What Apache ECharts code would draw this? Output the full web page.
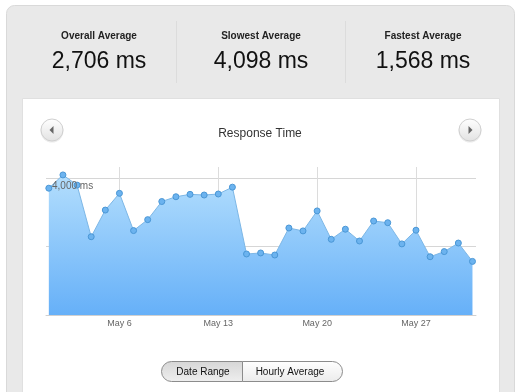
<!DOCTYPE html>
<html><head><meta charset="utf-8">
<script src="https://cdn.jsdelivr.net/npm/echarts@6/dist/echarts.min.js"></script>
<style>html,body{margin:0;padding:0;background:#fff}#c{width:520px;height:392px}</style>
</head><body><div id="c"></div>
<script>
// ---- data ----
const month = 'May';
const days = [1,2,3,4,5,6,7,8,9,10,11,12,13,14,15,16,17,18,19,20,21,22,23,24,25,26,27,28,29,30,31];
const responseMs = [3710,4098,3800,2290,3070,3560,2470,2790,3320,3460,3530,3510,3540,3740,1785,1815,1755,2545,2460,3045,2215,2510,2165,2750,2700,2080,2480,1705,1855,2105,1568];
const xTickDays = [6,13,20,27];
const yGridValues = [0,2000,4000];
const yLabelValues = [4000];
const statLabels = ['Overall Average','Slowest Average','Fastest Average'];
const statValues = ['2,706 ms','4,098 ms','1,568 ms'];
const chartTitle = 'Response Time';
const buttonLabels = ['Date Range','Hourly Average'];

const FONT = 'Liberation Sans, Arial, sans-serif';
const chart = echarts.init(document.getElementById('c'), null, {renderer:'canvas'});

const statX = [99, 261, 423];
const graphics = [
  {type:'rect', z:-20, shape:{x:6.5,y:5.5,width:508,height:420,r:8}, style:{fill:'#e9e9e9',stroke:'#d9d9d9',lineWidth:1}},
  {type:'rect', z:-19, shape:{x:22.5,y:98.5,width:477,height:320}, style:{fill:'#ffffff',stroke:'#e0e0e0',lineWidth:1}},
  {type:'line', z:-18, shape:{x1:176.5,y1:21,x2:176.5,y2:83}, style:{stroke:'#dcdcdc',lineWidth:1}},
  {type:'line', z:-18, shape:{x1:345.5,y1:21,x2:345.5,y2:83}, style:{stroke:'#dcdcdc',lineWidth:1}}
];
statLabels.forEach((t,i)=>{
  graphics.push({type:'text', z:5, x:statX[i], y:36, style:{text:t, fill:'#222', fontFamily:FONT, fontSize:10, fontWeight:'bold', align:'center', verticalAlign:'middle'}});
  graphics.push({type:'text', z:5, x:statX[i], y:62, style:{text:statValues[i], fill:'#111', fontFamily:FONT, fontSize:23, align:'center', verticalAlign:'middle'}});
});
// nav buttons
[[52,130,'l'],[470,130,'r']].forEach(([cx,cy,d])=>{
  graphics.push({type:'circle', z:5, shape:{cx:cx,cy:cy+1,r:11.5}, style:{fill:'rgba(0,0,0,0.08)'}});
  graphics.push({type:'circle', z:6, shape:{cx:cx,cy:cy,r:11}, style:{
    fill:new echarts.graphic.LinearGradient(0,0,0,1,[{offset:0,color:'#ffffff'},{offset:1,color:'#e2e2e2'}]),
    stroke:'#d0d0d0',lineWidth:1}});
  const pts = d==='l' ? [[cx+1.5,cy-4],[cx+1.5,cy+4],[cx-2.5,cy]] : [[cx-1.5,cy-4],[cx-1.5,cy+4],[cx+2.5,cy]];
  graphics.push({type:'polygon', z:7, shape:{points:pts}, style:{fill:'#666'}});
});
// segmented buttons
graphics.push({type:'rect', z:5, shape:{x:161.5,y:361.5,width:81,height:20,r:[10,0,0,10]}, style:{
  fill:new echarts.graphic.LinearGradient(0,0,0,1,[{offset:0,color:'#d6d6d6'},{offset:1,color:'#efefef'}]), stroke:'#8c8c8c', lineWidth:1}});
graphics.push({type:'rect', z:5, shape:{x:242.5,y:361.5,width:100,height:20,r:[0,10,10,0]}, style:{
  fill:new echarts.graphic.LinearGradient(0,0,0,1,[{offset:0,color:'#ffffff'},{offset:1,color:'#ebebeb'}]), stroke:'#8c8c8c', lineWidth:1}});
graphics.push({type:'text', z:6, x:203, y:372, style:{text:buttonLabels[0], fill:'#111', fontFamily:FONT, fontSize:10, align:'center', verticalAlign:'middle'}});
graphics.push({type:'text', z:6, x:290, y:372, style:{text:buttonLabels[1], fill:'#111', fontFamily:FONT, fontSize:10, align:'center', verticalAlign:'middle'}});

const option = {
  animation:false,
  backgroundColor:'transparent',
  title:{text:chartTitle, left:'center', top:123, textStyle:{fontFamily:FONT, fontSize:12, fontWeight:'normal', color:'#333'}},
  grid:{left:46, right:44, top:167, bottom:77},
  xAxis:{type:'value', min:0.8, max:31.25,
    axisLine:{show:true, lineStyle:{color:'#d0d0d0'}},
    axisTick:{show:false, customValues:xTickDays},
    axisLabel:{customValues:xTickDays, formatter:v=>month+' '+v, color:'#666', fontSize:9, margin:4, fontFamily:FONT},
    splitLine:{show:true, lineStyle:{color:'#dcdcdc'}}},
  yAxis:[
    {type:'value', min:0, max:4330,
      axisLine:{show:false}, axisTick:{show:false, customValues:yGridValues},
      axisLabel:{show:false, customValues:yGridValues},
      splitLine:{show:true, lineStyle:{color:'#d6d6d6'}}},
    {type:'value', min:0, max:4330, position:'left', z:10,
      axisLine:{show:false}, axisTick:{show:false, customValues:yLabelValues}, splitLine:{show:false},
      axisLabel:{inside:true, customValues:yLabelValues, formatter:v=>v.toLocaleString('en-US')+' ms',
        color:'#666', fontSize:10, fontFamily:FONT, margin:6, verticalAlign:'top', padding:[3,0,0,0]}}
  ],
  series:[{
    type:'line', data:days.map((d,i)=>[d,responseMs[i]]),
    symbol:'circle', symbolSize:6, showSymbol:true,
    lineStyle:{color:'#7db7e6', width:1},
    itemStyle:{color:'#6cb3ef', borderColor:'#4a97d6', borderWidth:1},
    areaStyle:{opacity:1, color:new echarts.graphic.LinearGradient(0,0,0,1,[{offset:0,color:'#b3defd'},{offset:1,color:'#66b0f8'}])}
  }],
  graphic:graphics
};
chart.setOption(option);
</script></body></html>
